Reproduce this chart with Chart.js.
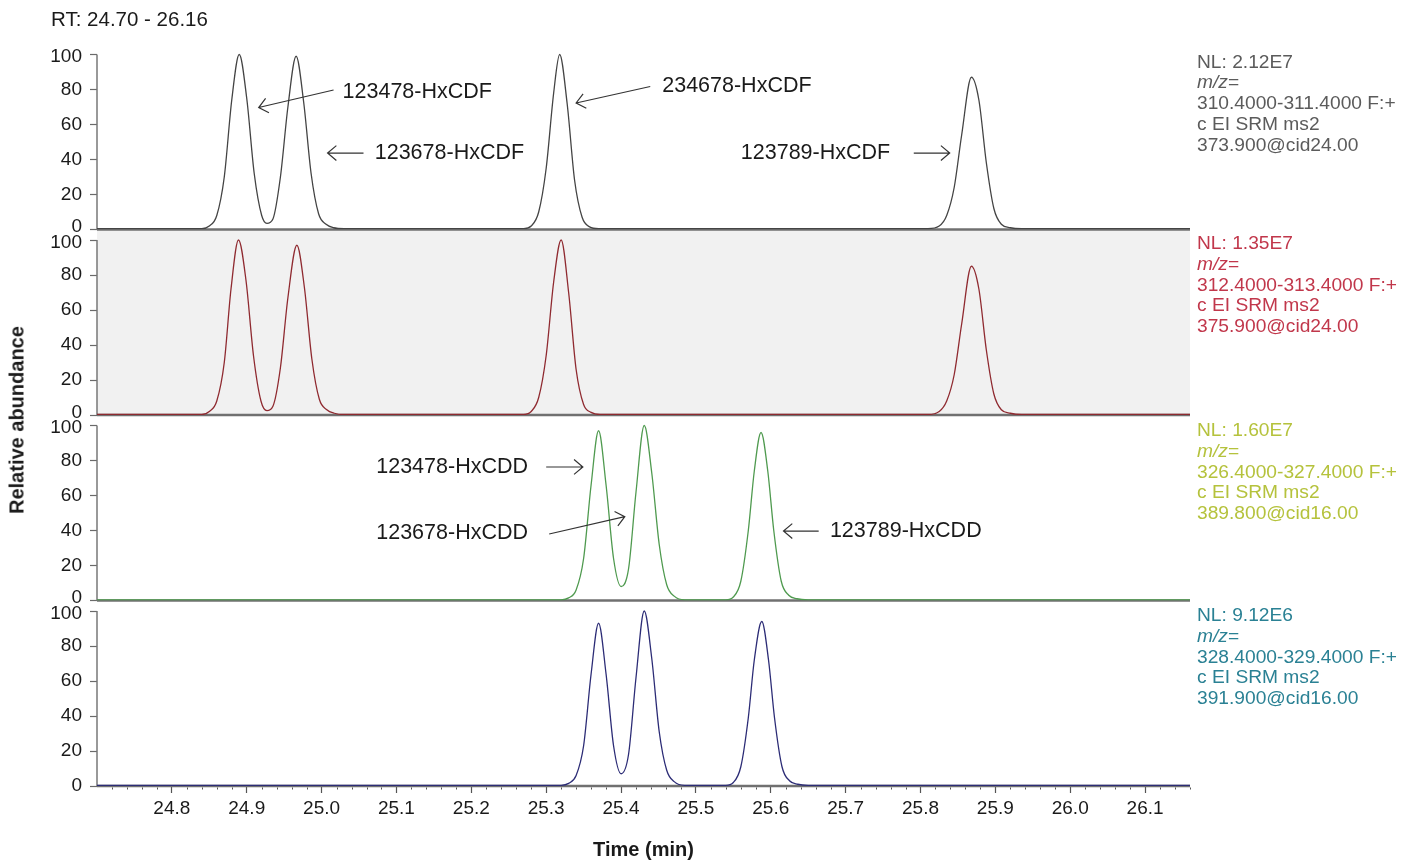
<!DOCTYPE html>
<html>
<head>
<meta charset="utf-8">
<script src="https://cdn.jsdelivr.net/npm/chart.js@4"></script>
<style>
  body { margin: 0; background: #fff; font-family: "Liberation Sans", Arial, sans-serif; }
  #wrap { position: relative; width: 1411px; height: 862px; }
  #chart { position: absolute; left: 0; top: 0; }
  .rt { position: absolute; left: 51px; top: 7px; font-size: 20.5px; line-height: 23px; color: #1a1a1a; }
  .nl { position: absolute; left: 1197px; font-size: 19.2px; line-height: 20.8px; white-space: nowrap; }
  .ytitle { position: absolute; left: 17px; top: 420px; transform: translate(-50%, -50%) rotate(-90deg);
            font-weight: bold; font-size: 20px; color: #1a1a1a; white-space: nowrap; }
</style>
</head>
<body>
<div id="wrap">
  <canvas id="chart"></canvas>
  <div class="rt">RT: 24.70 - 26.16</div>
  <div class="ytitle">Relative abundance</div>
  <div class="nl" style="top:51.5px; color:#5b5b5b;">NL: 2.12E7<br><i>m/z</i>=<br>310.4000-311.4000 F:+<br>c EI SRM ms2<br>373.900@cid24.00</div>
  <div class="nl" style="top:233px; color:#c1374b;">NL: 1.35E7<br><i>m/z</i>=<br>312.4000-313.4000 F:+<br>c EI SRM ms2<br>375.900@cid24.00</div>
  <div class="nl" style="top:420px; color:#b5c23c;">NL: 1.60E7<br><i>m/z</i>=<br>326.4000-327.4000 F:+<br>c EI SRM ms2<br>389.800@cid16.00</div>
  <div class="nl" style="top:605px; color:#2a8194;">NL: 9.12E6<br><i>m/z</i>=<br>328.4000-329.4000 F:+<br>c EI SRM ms2<br>391.900@cid16.00</div>
</div>
<script>
const FONT = '"Liberation Sans", Arial, sans-serif';

// axis range and ticks
const xMin = 24.70;
const xMax = 26.16;
const xTicks = [24.8, 24.9, 25.0, 25.1, 25.2, 25.3, 25.4, 25.5, 25.6, 25.7, 25.8, 25.9, 26.0, 26.1];
const yTicks = [0, 20, 40, 60, 80, 100];

// panel 1: m/z 310.4-311.4 (HxCDF)
const t1 = [24.70, 24.84, 24.85, 24.86, 24.87, 24.88, 24.89, 24.90, 24.91, 24.92, 24.927, 24.935, 24.945, 24.955, 24.966, 24.976, 24.986, 24.996, 25.006, 25.016, 25.03,
            25.27, 25.28, 25.29, 25.30, 25.31, 25.318, 25.328, 25.338, 25.348, 25.358, 25.37,
            25.81, 25.825, 25.835, 25.845, 25.855, 25.868, 25.878, 25.888, 25.898, 25.908, 25.92, 25.935, 26.16];
const v1 = [0.5, 0.5, 2, 8, 30, 74, 100, 75, 32, 8, 3.5, 6, 30, 70, 99, 73, 32, 9, 3, 1, 0.5,
            0.5, 2, 10, 35, 78, 100, 72, 28, 7, 1.5, 0.5,
            0.5, 2, 8, 24, 54, 87, 74, 38, 12, 3, 1, 0.5, 0.5];

// panel 2: m/z 312.4-313.4 (HxCDF)
const t2 = [24.70, 24.84, 24.85, 24.86, 24.87, 24.879, 24.889, 24.899, 24.909, 24.919, 24.927, 24.935, 24.945, 24.955, 24.967, 24.977, 24.987, 24.997, 25.007, 25.017, 25.03,
            25.27, 25.28, 25.29, 25.30, 25.31, 25.32, 25.33, 25.34, 25.35, 25.36, 25.372,
            25.81, 25.825, 25.835, 25.845, 25.855, 25.868, 25.878, 25.888, 25.898, 25.908, 25.92, 25.935, 26.16];
const v2 = [0.3, 0.3, 2, 8, 30, 72, 100, 77, 34, 8, 2.5, 5, 27, 67, 97, 73, 32, 9, 3, 1, 0.3,
            0.3, 2, 10, 34, 76, 100, 70, 26, 6, 1.5, 0.3,
            0.3, 2, 8, 23, 52, 85, 72, 37, 12, 3, 1, 0.3, 0.3];

// panel 3: m/z 326.4-327.4 (HxCDD)
const t3 = [24.70, 25.32, 25.33, 25.34, 25.35, 25.36, 25.37, 25.38, 25.39, 25.40, 25.41, 25.42, 25.431, 25.441, 25.451, 25.461, 25.471, 25.485,
            25.54, 25.55, 25.56, 25.57, 25.578, 25.587, 25.596, 25.604, 25.614, 25.624, 25.635, 25.65, 26.16];
const v3 = [0.4, 0.4, 1.5, 6, 24, 66, 97, 66, 24, 8, 18, 62, 100, 73, 32, 9, 2.5, 0.4,
            0.4, 2, 11, 40, 74, 96, 74, 40, 11, 3, 1, 0.4, 0.4];

// panel 4: m/z 328.4-329.4 (HxCDD)
const t4 = [24.70, 25.32, 25.33, 25.34, 25.35, 25.36, 25.37, 25.38, 25.39, 25.40, 25.41, 25.42, 25.431, 25.441, 25.451, 25.461, 25.471, 25.485,
            25.54, 25.55, 25.56, 25.57, 25.578, 25.588, 25.597, 25.605, 25.615, 25.625, 25.636, 25.65, 26.16];
const v4 = [0.4, 0.4, 1.5, 6, 23, 64, 93, 64, 23, 7, 18, 62, 100, 73, 31, 9, 2.5, 0.4,
            0.4, 2, 11, 39, 72, 94, 72, 39, 11, 3, 1, 0.4, 0.4];

const panelIds = ['y1', 'y2', 'y3', 'y4'];

// peak labels with arrows, in data units of their panel
const notes = [
  { panel: 'y1', text: '123478-HxCDF', tx: 25.028, ty: 78.6, from: [25.016, 79.7], to: [24.916, 69.7] },
  { panel: 'y1', text: '123678-HxCDF', tx: 25.071, ty: 43.7, from: [25.056, 43.7], to: [25.008, 43.7] },
  { panel: 'y1', text: '234678-HxCDF', tx: 25.455, ty: 82.0, from: [25.439, 81.7], to: [25.340, 72.3] },
  { panel: 'y1', text: '123789-HxCDF', tx: 25.560, ty: 43.7, from: [25.791, 43.7], to: [25.839, 43.7] },
  { panel: 'y3', text: '123478-HxCDD', tx: 25.073, ty: 76.3, from: [25.300, 76.3], to: [25.349, 76.3] },
  { panel: 'y3', text: '123678-HxCDD', tx: 25.073, ty: 38.6, from: [25.304, 38.0], to: [25.405, 47.9] },
  { panel: 'y3', text: '123789-HxCDD', tx: 25.679, ty: 39.7, from: [25.664, 39.7], to: [25.617, 39.7] }
];

function toPoints(ts, vs) {
  return ts.map((t, i) => ({ x: t, y: vs[i] }));
}

function line(data, axis, color) {
  return {
    data, yAxisID: axis, xAxisID: 'x',
    borderColor: color, borderWidth: 1.3,
    pointRadius: 0, fill: false,
    cubicInterpolationMode: 'monotone'
  };
}

function panelAxis(weight, isBottom) {
  return {
    type: 'linear', position: 'left', stack: 'panels', stackWeight: 1, weight,
    min: 0, max: 106,
    afterBuildTicks: s => { s.ticks = yTicks.map(v => ({ value: v })); },
    afterFit: s => { s.width = 97; },
    border: { display: false },
    grid: { drawOnChartArea: false, drawTicks: true, tickLength: 7, tickColor: '#6a6a6a', tickWidth: 1.2 },
    ticks: {
      color: '#1a1a1a', padding: 8, autoSkip: false,
      // small line height + blank line nudges 0 up and 100 down, away from the panel join
      font: { family: FONT, size: 19, lineHeight: '5px' },
      callback: v => (v === 0 && !isBottom) ? ['0', ''] : v === 100 ? ['', '100'] : String(v)
    }
  };
}

const panelDecor = {
  id: 'panelDecor',
  beforeDraw(chart) {
    const { ctx, chartArea, scales } = chart;
    // grey background of second trace
    const top = scales.y1.getPixelForValue(0);
    const bottom = scales.y2.getPixelForValue(0);
    ctx.save();
    ctx.fillStyle = '#f1f1f1';
    ctx.fillRect(chartArea.left, top, chartArea.right - chartArea.left, bottom - top);
    ctx.restore();
  },
  beforeDatasetsDraw(chart) {
    const { ctx, chartArea, scales } = chart;
    ctx.save();
    panelIds.forEach(id => {
      const s = scales[id];
      const y0 = s.getPixelForValue(0);
      const y100 = s.getPixelForValue(100);
      ctx.strokeStyle = '#707070';
      ctx.lineWidth = 2.5;
      ctx.beginPath();
      ctx.moveTo(chartArea.left, y0);
      ctx.lineTo(chartArea.right, y0);
      ctx.stroke();
      ctx.strokeStyle = '#777';
      ctx.lineWidth = 1.5;
      ctx.beginPath();
      ctx.moveTo(chartArea.left, y0);
      ctx.lineTo(chartArea.left, y100);
      ctx.stroke();
    });
    ctx.restore();
  },
  afterDatasetsDraw(chart) {
    const { ctx, scales } = chart;
    const x = scales.x;
    ctx.save();
    ctx.fillStyle = '#1a1a1a';
    ctx.strokeStyle = '#333';
    ctx.lineWidth = 1.2;
    ctx.font = '21.5px ' + FONT;
    ctx.textAlign = 'left';
    ctx.textBaseline = 'middle';
    notes.forEach(n => {
      const y = scales[n.panel];
      ctx.fillText(n.text, x.getPixelForValue(n.tx), y.getPixelForValue(n.ty));
      const x0 = x.getPixelForValue(n.from[0]), y0 = y.getPixelForValue(n.from[1]);
      const x1 = x.getPixelForValue(n.to[0]), y1 = y.getPixelForValue(n.to[1]);
      const a = Math.atan2(y1 - y0, x1 - x0);
      const len = 11.5, spread = 0.7;
      ctx.beginPath();
      ctx.moveTo(x0, y0);
      ctx.lineTo(x1, y1);
      ctx.moveTo(x1 - len * Math.cos(a - spread), y1 - len * Math.sin(a - spread));
      ctx.lineTo(x1, y1);
      ctx.lineTo(x1 - len * Math.cos(a + spread), y1 - len * Math.sin(a + spread));
      ctx.stroke();
    });
    ctx.restore();
  },
  afterDraw(chart) {
    // minor time ticks every 0.02 min
    const { ctx, scales } = chart;
    const x = scales.x;
    const yb = scales.y4.getPixelForValue(0);
    ctx.save();
    ctx.strokeStyle = '#555';
    ctx.lineWidth = 1;
    for (let k = Math.ceil(xMin * 50); k <= Math.floor(xMax * 50 + 1e-6); k++) {
      if (k % 5 === 0) continue;
      const px = Math.round(x.getPixelForValue(k / 50)) + 0.5;
      ctx.beginPath();
      ctx.moveTo(px, yb + 1.5);
      ctx.lineTo(px, yb + 3.5);
      ctx.stroke();
    }
    ctx.restore();
  }
};

new Chart(document.getElementById('chart'), {
  type: 'line',
  data: {
    datasets: [
      line(toPoints(t1, v1), 'y1', '#444444'),
      line(toPoints(t2, v2), 'y2', '#8f2a30'),
      line(toPoints(t3, v3), 'y3', '#4f9a4f'),
      line(toPoints(t4, v4), 'y4', '#2c2c76')
    ]
  },
  options: {
    responsive: true,
    maintainAspectRatio: false,
    animation: false,
    layout: { padding: { top: 44, right: 221, bottom: 0, left: 0 } },
    plugins: { legend: { display: false }, tooltip: { enabled: false } },
    scales: {
      x: {
        type: 'linear', position: 'bottom', min: xMin, max: xMax,
        afterBuildTicks: s => { s.ticks = xTicks.map(v => ({ value: v })); },
        afterFit: s => { s.height = 76; },
        border: { display: false },
        grid: { drawOnChartArea: false, drawTicks: true, tickLength: 7, tickColor: '#555', tickWidth: 1.2 },
        ticks: { color: '#1a1a1a', font: { family: FONT, size: 19 }, padding: 4, maxRotation: 0, autoSkip: false,
                 callback: v => Number(v).toFixed(1) },
        title: { display: true, text: 'Time (min)', color: '#1a1a1a',
                 font: { family: FONT, size: 20, weight: 'bold' }, padding: { top: 0, bottom: 0 } }
      },
      y1: panelAxis(4, false),
      y2: panelAxis(3, false),
      y3: panelAxis(2, false),
      y4: panelAxis(1, true)
    }
  },
  plugins: [panelDecor]
});
</script>
</body>
</html>
